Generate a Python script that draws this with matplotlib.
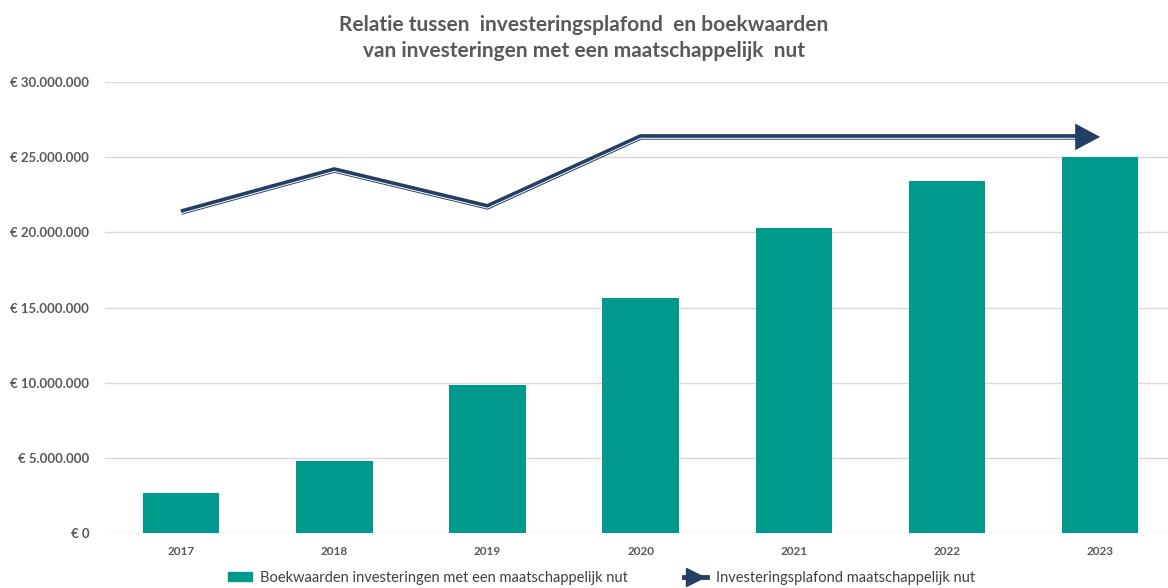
#!/usr/bin/env python3
"""Relatie tussen investeringsplafond en boekwaarden (staafdiagram + lijn)."""

import matplotlib.pyplot as plt
from matplotlib import transforms
from matplotlib.lines import Line2D
from matplotlib.patches import Patch
from matplotlib.ticker import FuncFormatter, MultipleLocator

YEARS = ["2017", "2018", "2019", "2020", "2021", "2022", "2023"]
BOEKWAARDEN = [2_650_000, 4_800_000, 9_850_000, 15_650_000, 20_300_000, 23_400_000, 25_000_000]
PLAFOND = [21_350_000, 24_150_000, 21_700_000, 26_350_000, 26_350_000, 26_350_000, 26_350_000]

TEAL = "#009A8D"
NAVY = "#243F63"
GREY = "#595959"

plt.rcParams["font.family"] = ["Lato", "DejaVu Sans"]


def euro(v, _pos=None):
    if v == 0:
        return "€ 0"
    return "€ " + f"{int(v):,}".replace(",", ".")


fig = plt.figure(figsize=(11.68, 5.88), dpi=100)
ax = fig.add_axes([0.0895, 0.0935, 0.918, 0.767])

x = list(range(len(YEARS)))
ax.bar(x, BOEKWAARDEN, width=0.5, color=TEAL, zorder=2)

# dubbele lijn: brede donkere lijn met een dunne witte lijn iets onder het midden;
# de lijn stopt net voor de pijlpunt
x_line = x[:-1] + [x[-1] - 0.08]
ax.plot(x_line, PLAFOND, color=NAVY, linewidth=4.0, solid_joinstyle="miter",
        solid_capstyle="butt", zorder=3)
shift = transforms.ScaledTranslation(0, -1.0 / 72, fig.dpi_scale_trans)
ax.plot(x_line, PLAFOND, color="white", linewidth=0.7, zorder=4,
        solid_joinstyle="miter", solid_capstyle="butt", transform=ax.transData + shift)
ax.annotate("", xy=(x[-1], PLAFOND[-1]), xytext=(x[-1] - 0.15, PLAFOND[-1]),
            arrowprops=dict(arrowstyle="-|>,head_length=0.9,head_width=0.48",
                            mutation_scale=20, color=NAVY, shrinkA=0, shrinkB=0,
                            linewidth=0),
            zorder=5)

ax.set_xlim(-0.5, len(YEARS) - 0.5)
ax.set_ylim(0, 30_000_000)
ax.yaxis.set_major_locator(MultipleLocator(5_000_000))
ax.yaxis.set_major_formatter(FuncFormatter(euro))
ax.set_xticks(x)
ax.set_xticklabels(YEARS)
ax.grid(axis="y", color="#d9d9d9", linewidth=1, zorder=0)
ax.set_axisbelow(True)
for s in ax.spines.values():
    s.set_visible(False)
ax.tick_params(length=0, colors=GREY)
ax.tick_params(axis="y", pad=11)
ax.tick_params(axis="x", pad=9)
for lab in ax.get_yticklabels():
    lab.set_fontsize(9.5)
    lab.set_fontweight("bold")
for lab in ax.get_xticklabels():
    lab.set_fontsize(8.5)
    lab.set_fontweight("bold")

fig.text(0.5, 0.958, "Relatie tussen  investeringsplafond  en boekwaarden",
         ha="center", va="center", fontsize=15, fontweight="bold", color=GREY)
fig.text(0.5, 0.914, "van investeringen met een maatschappelijk  nut",
         ha="center", va="center", fontsize=15, fontweight="bold", color=GREY)

handles = [
    Patch(facecolor=TEAL, edgecolor=TEAL),
    Line2D([0, 1], [0, 0], color=NAVY, linewidth=3.5, marker=">", markersize=13,
           markevery=[1]),
]
labels = ["Boekwaarden investeringen met een maatschappelijk nut",
          "Investeringsplafond maatschappelijk nut"]
fig.legend(handles, labels, loc="center", bbox_to_anchor=(0.515, 0.017), ncol=2,
           frameon=False, fontsize=10.5, handlelength=1.6, handleheight=0.6,
           handletextpad=0.6, columnspacing=3.8, labelcolor="#404040")

fig.savefig("out.png", dpi=100)
